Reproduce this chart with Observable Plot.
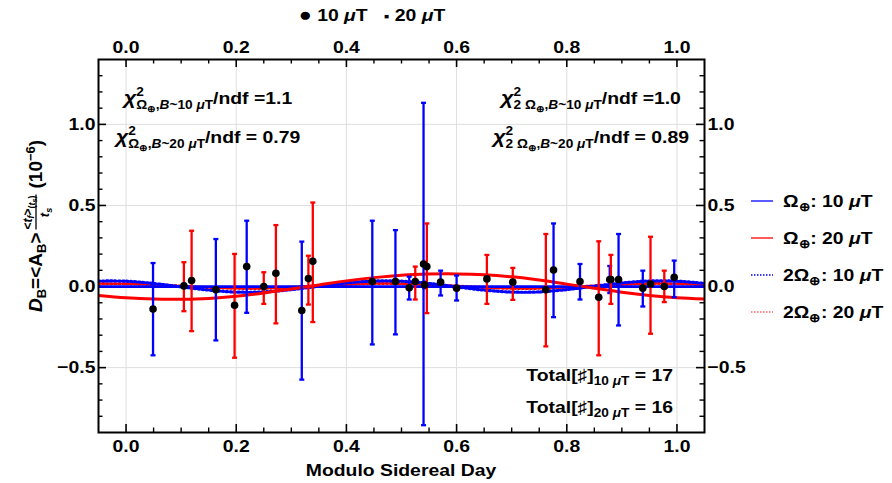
<!DOCTYPE html>
<html><head><meta charset="utf-8">
<script src="https://cdn.jsdelivr.net/npm/d3@7"></script>
<script src="https://cdn.jsdelivr.net/npm/@observablehq/plot@0.6"></script>
<style>
body{margin:0;background:#fff;}
text{white-space:pre;}
</style></head><body><div id="chart"></div>
<script>
// ---- data ----
// 10 µT measurements (blue error bars)
const x10  = [0.049, 0.163, 0.219, 0.319, 0.447, 0.489, 0.514, 0.540, 0.542, 0.571, 0.600, 0.776, 0.824, 0.878, 0.894, 0.938, 0.995];
const y10  = [-0.139, -0.020, 0.123, -0.148, 0.031, 0.031, -0.008, 0.139, 0.010, 0.027, -0.010, 0.102, 0.031, 0.043, 0.043, -0.010, 0.057];
const hi10 = [0.145, 0.293, 0.406, 0.277, 0.406, 0.348, 0.061, 1.133, 0.030, 0.098, 0.068, 0.389, 0.139, 0.127, 0.324, 0.098, 0.160];
const lo10 = [-0.424, -0.332, -0.162, -0.574, -0.357, -0.295, -0.080, -0.855, -0.010, -0.055, -0.086, -0.189, -0.080, -0.040, -0.240, -0.123, -0.066];
// 20 µT measurements (red error bars)
const x20  = [0.105, 0.119, 0.197, 0.250, 0.272, 0.331, 0.339, 0.525, 0.546, 0.655, 0.702, 0.762, 0.858, 0.880, 0.952, 0.977];
const y20  = [0.004, 0.037, -0.115, 0.000, 0.082, 0.049, 0.156, 0.031, 0.123, 0.047, 0.027, -0.020, -0.066, 0.043, 0.016, 0.000];
const hi20 = [0.150, 0.344, 0.201, 0.088, 0.379, 0.190, 0.518, 0.123, 0.389, 0.195, 0.115, 0.324, 0.279, 0.195, 0.307, 0.098];
const lo20 = [-0.152, -0.275, -0.439, -0.107, -0.227, -0.111, -0.219, -0.080, -0.164, -0.107, -0.082, -0.369, -0.424, -0.107, -0.291, -0.096];
// fitted curves
const curveX   = [-0.05, 0.00, 0.05, 0.10, 0.15, 0.20, 0.25, 0.30, 0.35, 0.40, 0.45, 0.50, 0.55, 0.60, 0.65, 0.70, 0.75, 0.80, 0.85, 0.90, 0.95, 1.00, 1.05];
const fitW10   = [0.000, 0.000, 0.000, 0.000, 0.000, 0.000, 0.000, 0.000, 0.000, 0.000, 0.000, 0.000, 0.000, 0.000, 0.000, 0.000, 0.000, 0.000, 0.000, 0.000, 0.000, 0.000, 0.000];
const fitW20   = [-0.055, -0.069, -0.077, -0.078, -0.073, -0.060, -0.040, -0.015, 0.010, 0.035, 0.055, 0.070, 0.077, 0.078, 0.073, 0.060, 0.040, 0.015, -0.010, -0.035, -0.055, -0.069, -0.077];
const fit2W10  = [0.034, 0.033, 0.019, -0.002, -0.022, -0.034, -0.033, -0.019, 0.002, 0.022, 0.034, 0.033, 0.019, -0.002, -0.022, -0.034, -0.033, -0.019, 0.002, 0.022, 0.034, 0.033, 0.019];
const fit2W20  = [0.018, 0.017, 0.011, 0.003, -0.006, -0.011, -0.011, -0.005, 0.004, 0.012, 0.018, 0.017, 0.011, 0.003, -0.006, -0.011, -0.011, -0.005, 0.004, 0.012, 0.018, 0.017, 0.011];
// ticks
const xTicks = [0.0, 0.2, 0.4, 0.6, 0.8, 1.0];
const xMinor = [0.05, 0.1, 0.15, 0.25, 0.3, 0.35, 0.45, 0.5, 0.55, 0.65, 0.7, 0.75, 0.85, 0.9, 0.95];
const yTicks = [-0.5, 0.0, 0.5, 1.0];
const yMinor = [-0.8, -0.7, -0.6, -0.4, -0.3, -0.2, -0.1, 0.1, 0.2, 0.3, 0.4, 0.6, 0.7, 0.8, 0.9, 1.1, 1.2, 1.3];

// ---- build tables ----
const d10 = x10.map((x, i) => ({x, y: y10[i], hi: hi10[i], lo: lo10[i]}));
const d20 = x20.map((x, i) => ({x, y: y20[i], hi: hi20[i], lo: lo20[i]}));
const cw10 = curveX.map((x, i) => ({x, v: fitW10[i]}));
const cw20 = curveX.map((x, i) => ({x, v: fitW20[i]}));
const c2w10 = curveX.map((x, i) => ({x, v: fit2W10[i]}));
const c2w20 = curveX.map((x, i) => ({x, v: fit2W20[i]}));

const W = 892, H = 483, mL = 98, mR = 188, mT = 59, mB = 51;
const iW = W - mL - mR, iH = H - mT - mB;
const BLUE = "#0000ff", RED = "#ff0000";
const SX = 1.14; // horizontal stretch of the reference lettering
const cap = {draw(ctx, size) { const w = Math.sqrt(size / Math.PI); ctx.moveTo(-w, 0); ctx.lineTo(w, 0); }};

const plot = Plot.plot({
  width: W, height: H,
  marginLeft: mL, marginRight: mR, marginTop: mT, marginBottom: mB,
  style: {fontFamily: "'Liberation Sans', Arial, sans-serif", fontSize: "17px", fontWeight: "bold", background: "white", color: "black", overflow: "visible"},
  x: {domain: [-0.05, 1.05], axis: "both", ticks: xTicks, tickFormat: ".1f", tickSize: 0, tickPadding: 7, label: null},
  y: {domain: [-0.9, 1.4], axis: "both", ticks: yTicks, tickFormat: ".1f", tickSize: 0, tickPadding: 3, label: null},
  marks: [
    Plot.ruleX(xTicks, {x: d => d, stroke: "#dedede", strokeWidth: 1}),
    Plot.ruleY(yTicks, {y: d => d, stroke: "#dedede", strokeWidth: 1}),
    // ticks (inward)
    Plot.tickX(xTicks, {x: d => d, insetTop: iH - 8, stroke: "black", strokeWidth: 1.6}),
    Plot.tickX(xTicks, {x: d => d, insetBottom: iH - 8, stroke: "black", strokeWidth: 1.6}),
    Plot.tickX(xMinor, {x: d => d, insetTop: iH - 4.5, stroke: "black", strokeWidth: 1.4}),
    Plot.tickX(xMinor, {x: d => d, insetBottom: iH - 4.5, stroke: "black", strokeWidth: 1.4}),
    Plot.tickY(yTicks, {y: d => d, insetRight: iW - 8, stroke: "black", strokeWidth: 1.6}),
    Plot.tickY(yTicks, {y: d => d, insetLeft: iW - 8, stroke: "black", strokeWidth: 1.6}),
    Plot.tickY(yMinor, {y: d => d, insetRight: iW - 4.5, stroke: "black", strokeWidth: 1.4}),
    Plot.tickY(yMinor, {y: d => d, insetLeft: iW - 4.5, stroke: "black", strokeWidth: 1.4}),
    // fitted curves
    Plot.line(c2w20, {x: "x", y: "v", curve: "catmull-rom", stroke: RED, strokeWidth: 3, strokeDasharray: "1.6,2.4", clip: true}),
    Plot.line(cw10, {x: "x", y: "v", curve: "catmull-rom", stroke: BLUE, strokeWidth: 2.8, clip: true}),
    Plot.line(c2w10, {x: "x", y: "v", curve: "catmull-rom", stroke: BLUE, strokeWidth: 3.2, strokeDasharray: "1.6,2.4", clip: true}),
    Plot.line(cw20, {x: "x", y: "v", curve: "catmull-rom", stroke: RED, strokeWidth: 3, clip: true}),
    // error bars
    Plot.ruleX(d10, {x: "x", y1: "lo", y2: "hi", stroke: BLUE, strokeWidth: 2.3}),
    Plot.dot(d10, {x: "x", y: "hi", symbol: cap, r: 2.5, fill: "none", stroke: BLUE, strokeWidth: 2.3}),
    Plot.dot(d10, {x: "x", y: "lo", symbol: cap, r: 2.5, fill: "none", stroke: BLUE, strokeWidth: 2.3}),
    Plot.ruleX(d20, {x: "x", y1: "lo", y2: "hi", stroke: RED, strokeWidth: 2.3}),
    Plot.dot(d20, {x: "x", y: "hi", symbol: cap, r: 2.5, fill: "none", stroke: RED, strokeWidth: 2.3}),
    Plot.dot(d20, {x: "x", y: "lo", symbol: cap, r: 2.5, fill: "none", stroke: RED, strokeWidth: 2.3}),
    // points
    Plot.dot(d10, {x: "x", y: "y", r: 3.8, fill: "black"}),
    Plot.dot(d20, {x: "x", y: "y", r: 3.8, fill: "black"}),
    Plot.frame({stroke: "black", strokeWidth: 2})
  ]
});
document.getElementById("chart").appendChild(plot);

// stretch the axis lettering horizontally about each label's own anchor
plot.querySelectorAll("text").forEach(el => {
  const x = +(el.getAttribute("x") || 0);
  const tr = el.getAttribute("transform") || "";
  el.setAttribute("transform", `${tr} translate(${x},0) scale(${SX},1) translate(${-x},0)`);
});

// ---- annotations ----
const svg = d3.select(plot);
const ann = svg.append("g").attr("font-family", "'Liberation Sans', Arial, sans-serif").attr("font-weight", "bold").attr("fill", "black");

function rich(g, x, y, anchor, size, parts, sx = SX) {
  const gg = g.append("g").attr("transform", `translate(${x},${y}) scale(${sx},1)`);
  const t = gg.append("text").attr("x", 0).attr("y", 0).attr("text-anchor", anchor).attr("font-size", size);
  let cur = 0;
  for (const p of parts) {
    const off = p.o || 0;
    const ts = t.append("tspan").text(p.t).attr("dy", off - cur);
    cur = off;
    if (p.s) ts.attr("font-size", p.s);
    if (p.i) ts.attr("font-style", "italic");
    if (p.dx) ts.attr("dx", p.dx);
  }
  return t;
}
function chiParts(pre, b, val) {
  return [{t: "χ", i: 1, s: 19}, {t: "2", o: -8, s: 12}, {t: pre + "Ω", o: 5, s: 12, dx: -6.7}, {t: "⊕", o: 8, s: 9}, {t: ",", o: 5, s: 12}, {t: "B", o: 5, s: 12, i: 1}, {t: "~" + b + " ", o: 5, s: 12}, {t: "μ", o: 5, s: 12, i: 1}, {t: "T", o: 5, s: 12}, {t: "/ndf " + val, o: 0}];
}
rich(ann, 208, 104, "middle", 17, chiParts("", "10", "=1.1"));
rich(ann, 208, 143, "middle", 17, chiParts("", "20", "= 0.79"));
rich(ann, 591, 104, "middle", 17, chiParts("2 ", "10", "=1.0"));
rich(ann, 591, 143, "middle", 17, chiParts("2 ", "20", "= 0.89"));

rich(ann, 673, 381, "end", 17, [{t: "Total[♯]"}, {t: "10 ", o: 4, s: 12}, {t: "μ", o: 4, s: 12, i: 1}, {t: "T", o: 4, s: 12}, {t: " = 17", o: 0}]);
rich(ann, 673, 413, "end", 17, [{t: "Total[♯]"}, {t: "20 ", o: 4, s: 12}, {t: "μ", o: 4, s: 12, i: 1}, {t: "T", o: 4, s: 12}, {t: " = 16", o: 0}]);

// right legend
const legRows = [
  {pre: "", b: "10", color: BLUE, dash: null},
  {pre: "", b: "20", color: RED, dash: null},
  {pre: "2", b: "10", color: BLUE, dash: "1.5,1.5"},
  {pre: "2", b: "20", color: "#ff6060", dash: "1.5,1.5"}
];
legRows.forEach((r, i) => {
  const y = 201 + i * 37;
  const l = ann.append("line").attr("x1", 751).attr("x2", 773).attr("y1", y).attr("y2", y).attr("stroke", r.color).attr("stroke-width", 1.3);
  if (r.dash) l.attr("stroke-dasharray", r.dash);
  rich(ann, 783, y + 6, "start", 17, [{t: r.pre + "Ω"}, {t: "⊕", o: 4, s: 12}, {t: ": " + r.b + " ", o: 0}, {t: "μ", i: 1}, {t: "T"}]);
});

// top legend
rich(ann, 372, 21, "middle", 17, [{t: "●", s: 19}, {t: " 10 "}, {t: "μ", i: 1}, {t: "T   "}, {t: "▪", s: 14}, {t: " 20 "}, {t: "μ", i: 1}, {t: "T"}]);

// x axis title
rich(ann, 401, 476, "middle", 17, [{t: "Modulo Sidereal Day"}]);

// y axis title (rotated, with fraction)
const yl = ann.append("g").attr("transform", "translate(42,312) rotate(-90)");
const t1 = rich(yl, 0, 0, "start", 19, [{t: "D", i: 1}, {t: "B", o: 4, s: 13}, {t: "=<A", o: 0}, {t: "B", o: 4, s: 13}, {t: ">", o: 0}], 1);
const w1 = t1.node().getComputedTextLength();
const fx = w1 + 3;
const num = rich(yl, fx, -10, "start", 12, [{t: "<"}, {t: "t", i: 1}, {t: "f", o: 2, s: 9, i: 1}, {t: ">", o: 0}, {t: "(", o: 3, s: 9}, {t: "t", o: 3, s: 9, i: 1}, {t: "s", o: 5, s: 7, i: 1}, {t: ")", o: 3, s: 9}], 1);
const wn = num.node().getComputedTextLength();
yl.append("line").attr("x1", fx).attr("x2", fx + wn + 1).attr("y1", -6).attr("y2", -6).attr("stroke", "black").attr("stroke-width", 1.3);
rich(yl, fx + wn / 2, 7, "middle", 13, [{t: "t", i: 1}, {t: "s", o: 3, s: 9, i: 1}], 1);
rich(yl, fx + wn + 7, 0, "start", 19, [{t: "(10"}, {t: "−6", o: -7, s: 13}, {t: ")", o: 0}], 1);
</script>
</body></html>
